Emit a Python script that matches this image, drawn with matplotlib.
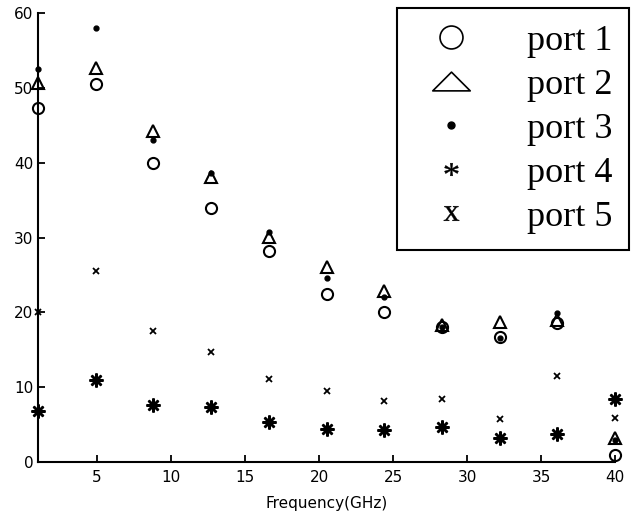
import matplotlib
matplotlib.use("Agg")
import matplotlib.pyplot as plt
from matplotlib.lines import Line2D
from matplotlib.path import Path

freq = [1.0, 4.9, 8.8, 12.7, 16.6, 20.5, 24.4, 28.3, 32.2, 36.1, 40.0]
port1 = [47.3, 50.5, 39.9, 34.0, 28.2, 22.5, 20.0, 18.0, 16.7, 18.6, 0.9]
port2 = [50.7, 52.7, 44.2, 38.1, 30.1, 26.0, 22.8, 18.3, 18.7, 19.0, 3.2]
port3 = [52.5, 58.0, 43.0, 38.6, 30.8, 24.6, 22.0, 18.1, 16.6, 19.9, 3.0]
port4 = [6.8, 11.0, 7.6, 7.3, 5.4, 4.4, 4.3, 4.7, 3.2, 3.8, 8.4]
port5 = [20.0, 25.5, 17.5, 14.7, 11.1, 9.5, 8.2, 8.4, 5.8, 11.5, 5.9]
labels = ["port 1", "port 2", "port 3", "port 4", "port 5"]
xticks = [5, 10, 15, 20, 25, 30, 35, 40]
yticks = [0, 10, 20, 30, 40, 50, 60]

plt.rcParams['font.family'] = ['DejaVu Sans']
plt.rcParams['mathtext.fontset'] = 'custom'
plt.rcParams['mathtext.rm'] = 'Liberation Serif'
plt.rcParams['mathtext.it'] = 'Liberation Serif'
fig = plt.figure(figsize=(6.35, 5.17), dpi=100)
ax = fig.add_axes([38/635, 1-462/517, 577/635, 449/517])

flat_tri = Path([(-1, -0.5), (1, -0.5), (0, 0.5), (-1, -0.5)],
                [Path.MOVETO, Path.LINETO, Path.LINETO, Path.CLOSEPOLY])

ax.plot(freq, port1, ls='none', marker='o', ms=8, mfc='none', mec='black', mew=1.5, clip_on=False)
ax.plot(freq, port2, ls='none', marker='^', ms=9, mfc='none', mec='black', mew=1.5, clip_on=False)
ax.plot(freq, port3, ls='none', marker='o', ms=3.5, mfc='black', mec='black', clip_on=False)
ax.plot(freq, port4, ls='none', marker=(8, 2, 0), ms=10, mec='black', mew=1.8, clip_on=False)
ax.plot(freq, port5, ls='none', marker='x', ms=5, mec='black', mew=1.3, clip_on=False)

ax.set_xlim(1, 40)
ax.set_ylim(0, 60)
ax.set_xticks(xticks)
ax.set_yticks(yticks)
ax.spines['top'].set_visible(False)
ax.spines['right'].set_visible(False)
for s in ['left', 'bottom']:
    ax.spines[s].set_linewidth(1.5)
ax.tick_params(direction='in', length=5, width=1.3, labelsize=11)
ax.tick_params(axis='x', pad=6)
ax.set_xlabel("Frequency(GHz)", fontsize=11, labelpad=8)

handles = [
    Line2D([], [], ls='none', marker='o', ms=16.5, mfc='none', mec='black', mew=1.2),
    Line2D([], [], ls='none', marker=flat_tri, ms=27, mfc='none', mec='black', mew=1.2),
    Line2D([], [], ls='none', marker='o', ms=5, mfc='black', mec='black'),
    Line2D([], [], ls='none', marker='$\\mathrm{*}$', ms=10, mfc='black', mec='black', mew=0.3),
    Line2D([], [], ls='none', marker='$\\mathrm{x}$', ms=11, mfc='black', mec='black', mew=0.3),
]
leg = ax.legend(handles, labels, loc='upper right', bbox_to_anchor=(1.024, 1.011),
                prop={'family': 'Liberation Serif', 'size': 26}, frameon=True, fancybox=False,
                edgecolor='black', framealpha=1, borderpad=0.45, labelspacing=0.3,
                handlelength=2.1, handletextpad=1.05, borderaxespad=0)
leg.get_frame().set_linewidth(1.5)

fig.savefig("out.png", dpi=100)
